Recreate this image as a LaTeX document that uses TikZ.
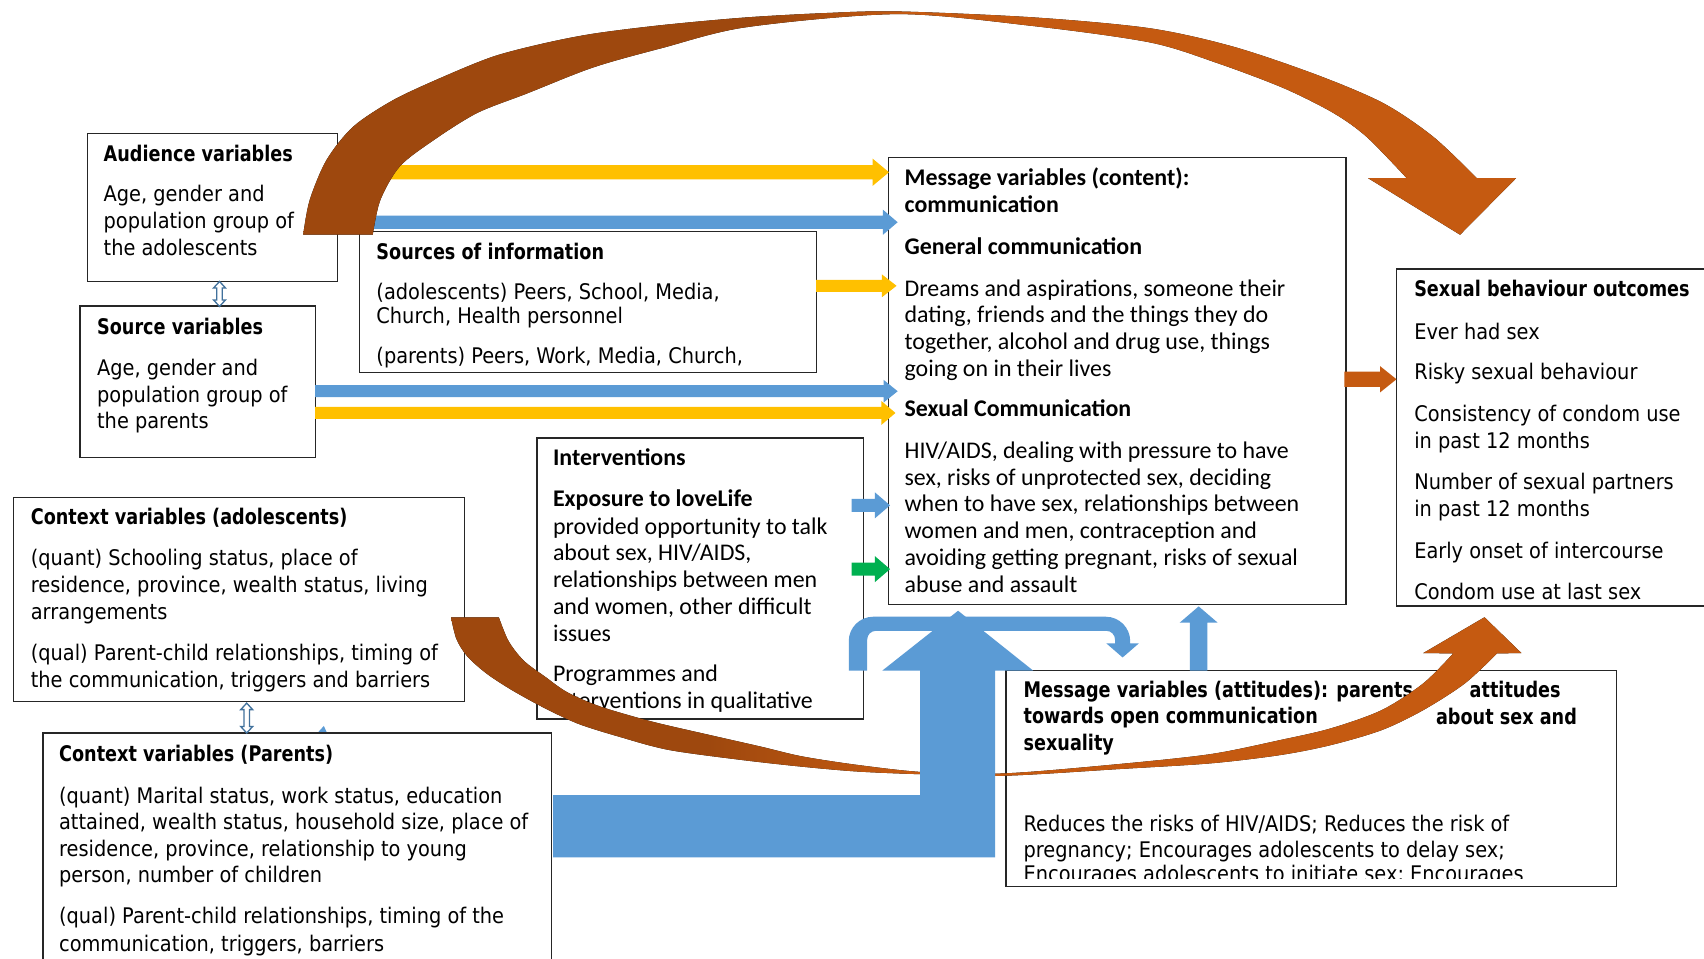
\documentclass[tikz,border=0pt]{standalone}
\usepackage{fontspec}
\setmainfont{Carlito}
\newfontfamily\tah[FakeStretch=0.9]{DejaVu Sans}
\newfontfamily\tahb[FakeStretch=0.82]{DejaVu Sans Bold}
\definecolor{yel}{HTML}{FFC000}
\definecolor{blu}{HTML}{5B9BD5}
\definecolor{grn}{HTML}{00B050}
\definecolor{brownD}{HTML}{9E480E}
\definecolor{orangeC}{HTML}{C55A11}
\definecolor{dblu}{HTML}{41719C}
\pgfdeclarehorizontalshading{arcshade}{100bp}{color(0bp)=(brownD); color(44bp)=(brownD); color(50bp)=(orangeC); color(100bp)=(orangeC)}
\pgfdeclarehorizontalshading{lowshade}{100bp}{color(0bp)=(brownD); color(37bp)=(brownD); color(46bp)=(orangeC); color(100bp)=(orangeC)}
\newcommand\fT{\tah\fontsize{9.9}{12}\selectfont}
\newcommand\fTB{\tahb\fontsize{9.9}{12}\selectfont}
\newcommand\fC{\fontsize{11}{12}\selectfont}
\newcommand\fCB{\bfseries\fontsize{11}{12}\selectfont}
\tikzset{
  box/.style={draw=black!85, line width=0.6pt, fill=white, anchor=north west, inner sep=0pt},
  txt/.style={anchor=base west, inner sep=0pt, text=black},
}
% paragraph of lines: name, x, y of first line centre, line spacing, font, lines
\newcommand\para[6]{\foreach \t [count=\i from 0] in {#6} {\node[txt, font=#5] (#1-\i) at (#2,{#3+7.5+\i*#4}) {\t};}}
% right block arrow: colour, x start, x tip, y, half shaft, half head, head length
\newcommand\rarrow[7]{\fill[#1] (#2,#4-#5) -- (#3-#7,#4-#5) -- (#3-#7,#4-#6) -- (#3,#4) -- (#3-#7,#4+#6) -- (#3-#7,#4+#5) -- (#2,#4+#5) -- cycle;}
% hollow up-down arrow: x, y top, y bottom
\newcommand\udarrow[3]{\filldraw[fill=white, draw=dblu, line width=0.6pt] (#1,#2) -- (#1+5.5,#2+6) -- (#1+2.5,#2+6) -- (#1+2.5,#3-6) -- (#1+5.5,#3-6) -- (#1,#3) -- (#1-5.5,#3-6) -- (#1-2.5,#3-6) -- (#1-2.5,#2+6) -- (#1-5.5,#2+6) -- cycle;}
\begin{document}
\begin{tikzpicture}[x=0.5pt,y=-0.5pt]
\useasboundingbox (0,0) rectangle (1568,882);
\clip (0,0) rectangle (1568,882);
\fill[white] (0,0) rectangle (1568,882);

% ---------- boxes ----------
\node[box, minimum width=115pt, minimum height=68.3pt] (aud) at (80,122) {};
\node[box, minimum width=108.5pt, minimum height=69.8pt] (src) at (73,281) {};
\node[box, minimum width=210.5pt, minimum height=64.75pt] (soi) at (330,212.5) {};
\node[box, minimum width=210.5pt, minimum height=205.5pt] (msg) at (817,144.5) {};
\node[box, minimum width=170pt, minimum height=155pt] (out) at (1284.5,247) {};
\node[box, minimum width=207.3pt, minimum height=93.9pt] (ctxa) at (12,457) {};
\node[box, minimum width=234pt, minimum height=120pt] (ctxp) at (39,674) {};
\node[box, minimum width=150.1pt, minimum height=129.25pt] (intv) at (493.5,402.5) {};
\node[box, minimum width=281pt, minimum height=99.2pt] (att) at (925,616.6) {};

% ---------- texts ----------
\para{aud-h}{95}{141}{25}{\fTB}{{Audience variables}}
\para{aud-b}{95}{178}{25}{\fT}{{Age, gender and},{population group of},{the adolescents}}

\para{src-h}{89}{300}{24.5}{\fTB}{{Source variables}}
\para{src-b}{89}{338}{24.5}{\fT}{{Age, gender and},{population group of},{the parents}}

\para{soi-h}{346}{231}{22}{\fTB}{{Sources of information}}
\para{soi-a}{346}{268}{22}{\fT}{{(adolescents) Peers, School, Media,},{Church, Health personnel}}
\para{soi-p}{346}{327}{22}{\fT}{{(parents) Peers, Work, Media, Church,}}

\para{msg-h}{832}{163.5}{25}{\fCB}{{Message variables (content):},{communication}}
\para{msg-g}{832}{227}{25}{\fCB}{{General communication}}
\para{msg-d}{832}{265}{24.5}{\fC}{{Dreams and aspirations, someone their},{dating, friends and the things they do},{together, alcohol and drug use, things},{going on in their lives}}
\para{msg-s}{832}{376}{25}{\fCB}{{Sexual Communication}}
\para{msg-x}{832}{414}{24.8}{\fC}{{HIV/AIDS, dealing with pressure to have},{sex, risks of unprotected sex, deciding},{when to have sex, relationships between},{women and men, contraception and},{avoiding getting pregnant, risks of sexual},{abuse and assault}}

\para{out-h}{1301}{265}{25}{\fTB}{{Sexual behaviour outcomes}}
\para{out-a}{1301}{305}{25}{\fT}{{Ever had sex}}
\para{out-b}{1301}{342}{25}{\fT}{{Risky sexual behaviour}}
\para{out-c}{1301}{380}{24.8}{\fT}{{Consistency of condom use},{in past 12 months}}
\para{out-d}{1301}{443}{24.8}{\fT}{{Number of sexual partners},{in past 12 months}}
\para{out-e}{1301}{506}{25}{\fT}{{Early onset of intercourse}}
\para{out-f}{1301}{544.5}{25}{\fT}{{Condom use at last sex}}

\para{int-h}{508.5}{421}{25}{\fCB}{{Interventions}}
\para{int-e}{508.5}{459}{25}{\fCB}{{Exposure to loveLife}}
\para{int-b}{508.5}{484}{24.6}{\fC}{{provided opportunity to talk},{about sex, HIV/AIDS,},{relationships between men},{and women, other difficult},{issues}}
\para{int-p}{508.5}{620}{24.5}{\fC}{{Programmes and},{interventions in qualitative}}

\para{ca-h}{28}{475}{25}{\fTB}{{Context variables (adolescents)}}
\para{ca-q}{28}{513}{25}{\fT}{{(quant) Schooling status, place of},{residence, province, wealth status, living},{arrangements}}
\para{ca-l}{28}{600}{25.5}{\fT}{{(qual) Parent-child relationships, timing of},{the communication, triggers and barriers}}

\para{cp-h}{54}{693}{25}{\fTB}{{Context variables (Parents)}}
\para{cp-q}{54}{731.8}{24.3}{\fT}{{(quant) Marital status, work status, education},{attained, wealth status, household size, place of},{residence, province, relationship to young},{person, number of children}}
\para{cp-l}{54}{842.6}{25.4}{\fT}{{(qual) Parent-child relationships, timing of the},{communication, triggers, barriers}}

\para{at-h}{941.5}{634}{24.7}{\fTB}{{Message variables (attitudes): parents},{towards open communication},{sexuality}}
\node[txt, font=\fTB] (at-a) at (1352,641.5) {attitudes};
\node[txt, font=\fTB] (at-b) at (1321,667) {about sex and};
\para{at-r}{941.5}{757.6}{23.5}{\fT}{{Reduces the risks of HIV/AIDS; Reduces the risk of},{pregnancy; Encourages adolescents to delay sex;}}
\begin{scope}
\clip (925,790) rectangle (1487,808);
\node[txt, font=\fT] (at-c) at (941.5,811) {Encourages adolescents to initiate sex; Encourages};
\end{scope}

% ---------- lower curved arrow ----------
\fill[shading=lowshade] plot[smooth] coordinates {(415,568) (420,588) (430,604) (448,620) (471,635) (500,651) (532,666) (570,678) (615,690) (680,699) (738,705.5) (790,710) (850,712.5) (925.2,713.8) (1029.3,707.7) (1114.2,702.4) (1178,694.8) (1224.7,685.6) (1271.5,671.8) (1309.7,653.4) (1348,628.8) (1377.6,601.2)}
  -- (1400,601) -- (1366,568) -- (1309.6,601)
  -- plot[smooth] coordinates {(1337.3,601.2) (1309.7,628.8) (1271.5,653.4) (1224.7,670.2) (1178,681) (1114.2,693.9) (1029.3,703.1) (925.2,711.6) (850,710.5) (790,704) (738,696) (700,687) (656,677) (600,664) (552,650) (522,637) (502,623) (482,608) (468,590) (459,568)} -- cycle;

% ---------- big blue L arrow ----------
\fill[blu] (509,731.6) -- (846.7,731.6) -- (846.7,617) -- (812,617) -- (881.6,562) -- (950.6,617) -- (915.6,617) -- (915.6,789) -- (509,789) -- cycle;

% ---------- U-turn arrow ----------
\fill[blu] (781,617) -- (781,590) .. controls (781,577.6) and (791.1,567.5) .. (803.5,567.5)
  -- (1017.5,567.5) .. controls (1029.9,567.5) and (1040,577.6) .. (1040,590)
  -- (1040,592) -- (1048,592) -- (1033,605) -- (1018,592) -- (1026,592)
  -- (1026,588.5) .. controls (1026,584) and (1022.5,580.5) .. (1018,580.5)
  -- (806,580.5) .. controls (801.5,580.5) and (798,584) .. (798,588.5)
  -- (798,617) -- cycle;

% ---------- small up arrow ----------
\fill[blu] (1095,617) -- (1095,573) -- (1085.5,573) -- (1103,558) -- (1120.5,573) -- (1111,573) -- (1111,617) -- cycle;

% ---------- horizontal block arrows ----------
\rarrow{yel}{340}{818}{158.5}{6.5}{12.5}{15}
\rarrow{blu}{335}{826}{204.5}{6}{11.5}{13.5}
\rarrow{yel}{751}{825}{263}{5.5}{10.5}{13.5}
\rarrow{blu}{290}{826}{360}{5.5}{10.5}{13}
\rarrow{yel}{290}{824}{380}{5.5}{11}{13}
\rarrow{blu}{783.7}{819}{465}{6}{12}{14}
\rarrow{grn}{783.7}{819}{523.7}{6}{12}{14}
\rarrow{orangeC}{1237}{1285}{349}{7}{12}{15}

% ---------- double arrows ----------
\udarrow{202}{259}{282}
\udarrow{227}{647}{674.5}
\fill[blu] (293,673.5) -- (298,668) -- (300.5,673.5) -- cycle;

% ---------- top curved arrow ----------
\fill[shading=arcshade] plot[smooth] coordinates {(279,216) (285,184) (300.6,147) (325,116.6) (362,92) (408,70.6) (454,52) (500,40) (546,31) (610,23) (687,16) (760,12) (826,10.5) (951,16) (1058,26) (1135,43) (1212,69) (1273,95) (1319,126) (1359,164)}
  -- (1395,164) -- (1343.5,216) -- (1259,164)
  -- plot[smooth] coordinates {(1294.5,164) (1257.6,126) (1227,104) (1181,81) (1120,58) (1058,39) (951,24) (826,13) (687,25) (610,44) (546,62) (485,86) (439,104) (399,129) (368,153) (350,184) (343,216)} -- cycle;
\end{tikzpicture}
\end{document}
